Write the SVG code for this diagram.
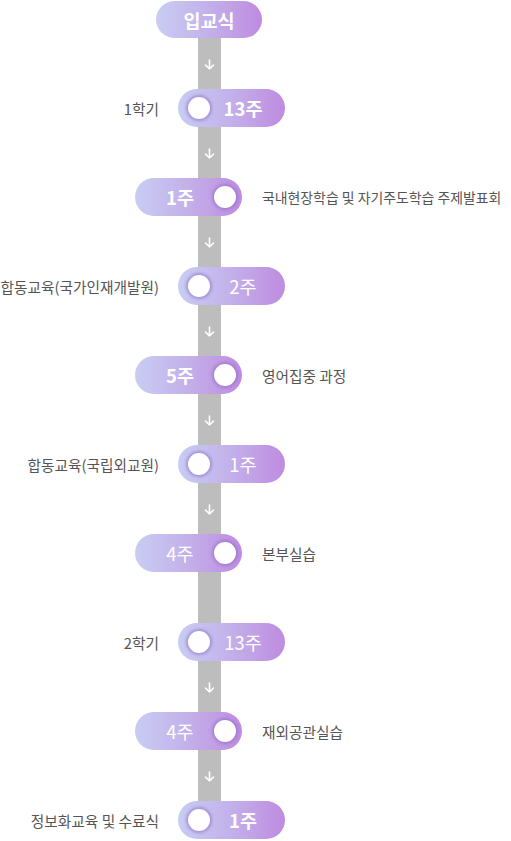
<svg xmlns="http://www.w3.org/2000/svg" width="511" height="841" viewBox="0 0 511 841">
<defs>
<linearGradient id="pg" x1="0" y1="0" x2="1" y2="0">
<stop offset="0" stop-color="#c8cdf3"/>
<stop offset="0.5" stop-color="#c3b0ea"/>
<stop offset="1" stop-color="#bf8be0"/>
</linearGradient>
<filter id="sh" x="-50%" y="-50%" width="200%" height="200%">
<feGaussianBlur stdDeviation="1.6"/>
</filter>
<g id="knob">
<circle r="13" fill="#8a6cc4" opacity="0.55" filter="url(#sh)"/>
<circle r="11" fill="#ffffff"/>
</g>
<path id="arr" d="M0,-5 V4 M-4,0 L0,4 L4,0" fill="none" stroke="#ffffff" stroke-width="1.6" stroke-linecap="round" stroke-linejoin="round"/>
</defs>
<style>
.pill{fill:url(#pg)}
.pt{font-family:"Noto Sans CJK KR","Noto Sans",sans-serif;font-size:18.5px;fill:#ffffff;text-anchor:middle;dominant-baseline:central}
.b{font-weight:700}
.r{font-weight:400}
.lab{font-family:"Noto Sans CJK KR","Noto Sans",sans-serif;font-size:14.7px;fill:#555555;dominant-baseline:central}
.ll{text-anchor:end}
.sm{font-size:13.9px}
</style>
<g id="connectors">
<rect x="198" y="30" width="23" height="780" fill="#bdbdbd"/>
<use href="#arr" x="209.5" y="65"/>
<use href="#arr" x="209.5" y="154"/>
<use href="#arr" x="209.5" y="243"/>
<use href="#arr" x="209.5" y="332"/>
<use href="#arr" x="209.5" y="421"/>
<use href="#arr" x="209.5" y="510"/>
<use href="#arr" x="209.5" y="688"/>
<use href="#arr" x="209.5" y="777"/>
</g>
<g id="n0">
<rect class="pill" x="156" y="1" width="106" height="37" rx="18.5"/>
<text class="pt b" x="209" y="19.5">입교식</text>
</g>
<g id="n1">
<rect class="pill" x="178" y="89" width="107" height="38" rx="19"/>
<use href="#knob" x="199" y="108"/>
<text class="pt b" x="243" y="108">13주</text>
<text class="lab ll" x="159" y="108">1학기</text>
</g>
<g id="n2">
<rect class="pill" x="135" y="178" width="107" height="38" rx="19"/>
<use href="#knob" x="225" y="197"/>
<text class="pt b" x="180" y="197">1주</text>
<text class="lab sm" x="262" y="197">국내현장학습 및 자기주도학습 주제발표회</text>
</g>
<g id="n3">
<rect class="pill" x="178" y="267" width="107" height="38" rx="19"/>
<use href="#knob" x="199" y="286"/>
<text class="pt r" x="243" y="286">2주</text>
<text class="lab ll" x="159" y="286">합동교육(국가인재개발원)</text>
</g>
<g id="n4">
<rect class="pill" x="135" y="356" width="107" height="38" rx="19"/>
<use href="#knob" x="225" y="375"/>
<text class="pt b" x="180" y="375">5주</text>
<text class="lab" x="262" y="375">영어집중 과정</text>
</g>
<g id="n5">
<rect class="pill" x="178" y="445" width="107" height="38" rx="19"/>
<use href="#knob" x="199" y="464"/>
<text class="pt r" x="243" y="464">1주</text>
<text class="lab ll" x="159" y="464">합동교육(국립외교원)</text>
</g>
<g id="n6">
<rect class="pill" x="135" y="534" width="107" height="38" rx="19"/>
<use href="#knob" x="225" y="553"/>
<text class="pt r" x="180" y="553">4주</text>
<text class="lab" x="262" y="553">본부실습</text>
</g>
<g id="n7">
<rect class="pill" x="178" y="623" width="107" height="38" rx="19"/>
<use href="#knob" x="199" y="642"/>
<text class="pt r" x="243" y="642">13주</text>
<text class="lab ll" x="159" y="642">2학기</text>
</g>
<g id="n8">
<rect class="pill" x="135" y="712" width="107" height="38" rx="19"/>
<use href="#knob" x="225" y="731"/>
<text class="pt r" x="180" y="731">4주</text>
<text class="lab" x="262" y="731">재외공관실습</text>
</g>
<g id="n9">
<rect class="pill" x="178" y="801" width="107" height="38" rx="19"/>
<use href="#knob" x="199" y="820"/>
<text class="pt b" x="243" y="820">1주</text>
<text class="lab ll" x="159" y="820">정보화교육 및 수료식</text>
</g>
</svg>
